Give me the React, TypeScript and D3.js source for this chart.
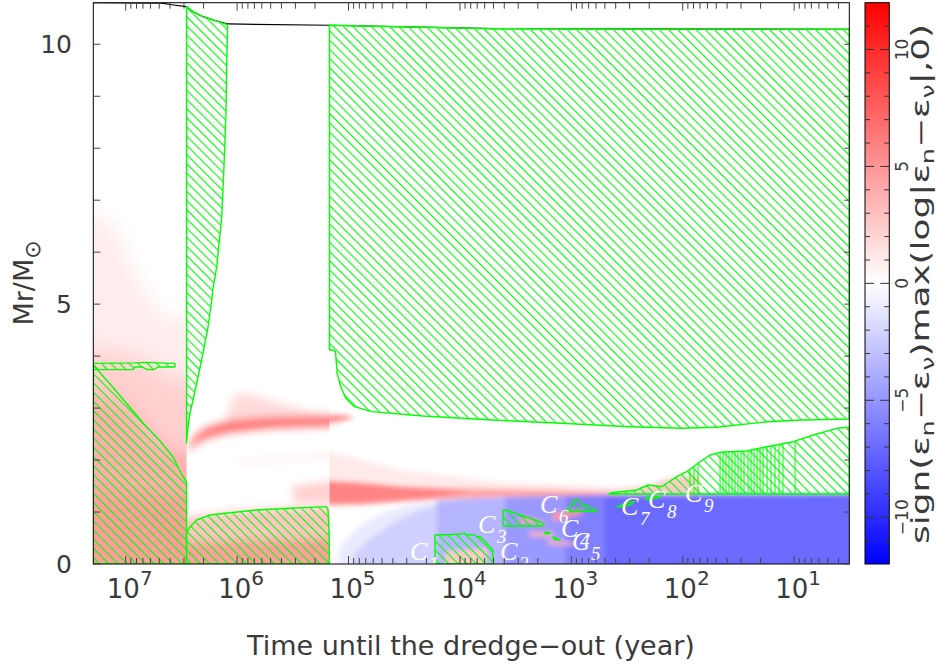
import React from "react";
import * as d3 from "d3";

type P = [number, number];

// ---------- data: x = log10(time until dredge-out / yr), y = Mr / Msun ----------
const xDecades = [1, 2, 3, 4, 5, 6, 7];
const yTickLabels = [0, 5, 10];
const cbTickLabels = [-10, -5, 0, 5, 10];
const epochBounds = [7.291, 6.454, 5.171, 0.505];

const totalMass: P[] = [[7.291,10.80],[6.68,10.79],[6.57,10.756],[6.459,10.724],[6.396,10.627],[6.306,10.531],[6.216,10.468],[6.082,10.391],[5.166,10.366],[3.7,10.30],[0.505,10.289]];

const zoneA: P[] = [[7.291,0],[7.291,3.80],[7.276,3.791],[7.141,3.463],[6.988,3.079],[6.845,2.713],[6.692,2.367],[6.575,2.059],[6.495,1.713],[6.459,1.597],[6.454,1.578],[6.454,0]];
const zoneB: P[] = [[7.291,3.86],[6.917,3.87],[6.809,3.88],[6.710,3.87],[6.558,3.86],[6.558,3.79],[6.710,3.79],[6.745,3.74],[6.809,3.74],[6.850,3.79],[6.917,3.79],[6.935,3.74],[7.291,3.74]];
const zoneC: P[] = [[6.454,10.73],[6.396,10.627],[6.306,10.531],[6.216,10.468],[6.085,10.372],[6.094,9.569],[6.100,8.678],[6.118,7.645],[6.138,6.683],[6.183,5.721],[6.219,5.272],[6.228,5.080],[6.261,4.560],[6.306,4.060],[6.351,3.598],[6.396,3.156],[6.423,2.906],[6.444,2.578],[6.454,2.328]];
const zoneD: P[] = [[6.454,0],[6.454,0.597],[6.423,0.712],[6.363,0.847],[6.243,0.943],[6.064,0.987],[5.824,1.039],[5.525,1.072],[5.196,1.103],[5.184,1.039],[5.175,0.654],[5.171,0]];
const zoneE: P[] = [[5.171,10.366],[3.7,10.30],[0.505,10.289],[0.505,2.79],[0.604,2.784],[0.928,2.771],[1.237,2.738],[1.701,2.630],[2.010,2.611],[2.474,2.642],[3.093,2.707],[3.710,2.771],[4.329,2.848],[4.792,2.931],[4.947,3.027],[5.024,3.188],[5.070,3.412],[5.102,3.669],[5.117,4.085],[5.147,4.118],[5.171,4.118]];
const zoneFTop: P[] = [[2.638,1.372],[2.413,1.424],[2.309,1.520],[2.189,1.487],[2.054,1.680],[1.964,1.776],[1.905,1.872],[1.845,1.968],[1.755,2.097],[1.665,2.149],[1.426,2.174],[1.246,2.257],[1.007,2.353],[0.828,2.482],[0.618,2.611],[0.505,2.630]];
const zoneFBase = 1.347;
const zoneC1: P[] = [[4.224,0],[4.224,0.558],[3.999,0.571],[3.96,0.60],[3.939,0.558],[3.88,0.57],[3.849,0.525],[3.82,0.53],[3.790,0.462],[3.730,0.333],[3.706,0.269],[3.700,0]];
const zoneC3: P[] = [[3.613,0.731],[3.613,1.039],[3.568,1.029],[3.461,0.943],[3.326,0.847],[3.245,0.770],[3.254,0.731]];
const zoneC4: P[] = [[3.236,0.616],[3.191,0.597],[3.230,0.578]];
const zoneC5: P[] = [[3.164,0.52],[3.102,0.46],[3.15,0.47]];
const zoneC6: P[] = [[3.039,1.006],[3.012,1.103],[2.982,1.231],[2.937,1.231],[2.895,1.103],[2.859,1.135],[2.770,1.020]];
const zoneC7: P[] = [[2.590,1.097],[2.491,1.193],[2.437,1.193],[2.473,1.135]];
const zoneC8: P[] = [[2.339,1.251],[2.294,1.308],[2.204,1.289],[2.312,1.231]];

const flashLines = [1.935,1.899,1.863,1.665,1.638,1.612,1.585,1.558,1.531,1.504,1.477,1.450,1.414,1.387,1.360,1.333,1.306,1.279,1.243,1.208,1.172,1.136,1.100,0.992];

const labelNames = ["1","2","3","4","5","6","7","8","9"];
const labelT = [4.448,3.640,3.838,3.093,2.994,3.281,2.554,2.312,1.980];
const labelM = [0.077,0.077,0.597,0.520,0.269,0.981,0.943,1.078,1.193];

// heat map patches: value of sign(en-ev)max(log|en-ev|,0) over a polygon
const heatEpoch1 = [
  { v: 0.9, poly: [[7.291,0],[7.291,7.2],[7.1,6.5],[6.9,5.5],[6.7,4.8],[6.454,4.5],[6.454,0]] as P[] },
  { v: 2.2, poly: [[7.291,0],[7.291,4.3],[6.9,4.0],[6.6,3.6],[6.454,3.4],[6.454,0]] as P[] },
  { v: 3.8, poly: [[7.291,0],[7.291,3.6],[7.0,3.1],[6.8,2.6],[6.6,2.2],[6.454,2.0],[6.454,0]] as P[] },
  { v: 4.6, poly: [[7.291,0],[7.291,1.5],[6.454,1.2],[6.454,0]] as P[] },
];
const heatEpoch2 = [
  { v: 2.8, poly: [[6.454,0],[6.454,0.75],[6.3,0.95],[5.8,1.06],[5.171,1.12],[5.171,0]] as P[] },
  { v: 4.5, poly: [[6.454,0],[6.454,0.4],[5.171,0.5],[5.171,0]] as P[] },
  { v: 1.7, poly: [[6.10,2.675],[6.06,3.15],[5.974,3.30],[5.822,3.233],[5.525,3.040],[5.229,2.886],[5.171,2.809],[5.171,2.694]] as P[] },
  { v: 0.6, poly: [[5.974,2.0],[5.6,2.09],[5.171,2.19],[5.171,2.07],[5.6,1.97],[5.974,1.88]] as P[] },
  { v: 2.2, poly: [[5.5,1.2],[5.171,1.15],[5.171,1.7],[5.5,1.5]] as P[] },
  { v: 7.0, poly: [[6.423,2.30],[6.378,2.47],[6.270,2.62],[6.064,2.76],[5.678,2.83],[5.373,2.84],[5.171,2.87],[5.171,2.68],[5.373,2.64],[5.678,2.62],[6.064,2.54],[6.270,2.43],[6.378,2.30],[6.423,2.16]] as P[] },
];
const heatEpoch3 = [
  { v: 1.0, poly: [[5.171,2.40],[4.538,1.809],[3.640,1.578],[2.743,1.501],[1.845,1.462],[1.845,1.366],[5.171,1.328]] as P[] },
  { v: -1.0, poly: [[5.139,0],[5.077,0.308],[4.987,0.558],[4.852,0.808],[4.673,1.001],[4.448,1.135],[4.179,1.212],[3.820,1.270],[3.281,1.308],[2.743,1.328],[0.505,1.337],[0.505,0]] as P[] },
  { v: -2.2, poly: [[5.0,0],[4.95,0.2],[4.8,0.5],[4.6,0.8],[4.4,1.0],[4.2,1.15],[3.82,1.25],[3.281,1.30],[2.743,1.328],[0.505,1.337],[0.505,0]] as P[] },
  { v: -3.5, poly: [[4.206,0],[4.206,1.21],[3.820,1.270],[3.281,1.308],[2.743,1.328],[0.505,1.337],[0.505,0]] as P[] },
  { v: -4.8, poly: [[3.595,0],[3.595,1.28],[3.281,1.308],[2.743,1.328],[0.505,1.337],[0.505,0]] as P[] },
  { v: -6.0, poly: [[3.05,0],[3.05,1.32],[2.743,1.328],[0.505,1.337],[0.505,0]] as P[] },
  { v: -7.0, poly: [[2.70,0],[2.70,1.33],[0.505,1.337],[0.505,0]] as P[] },
  { v: 4.2, poly: [[5.171,1.655],[4.897,1.578],[4.538,1.501],[4.089,1.462],[3.640,1.443],[3.191,1.424],[2.743,1.395],[2.384,1.366],[2.743,1.328],[3.191,1.308],[3.640,1.289],[4.089,1.251],[4.538,1.193],[4.897,1.135],[5.171,1.116]] as P[] },
  { v: 5.8, poly: [[5.171,1.62],[4.897,1.55],[4.538,1.48],[4.2,1.44],[3.9,1.41],[4.2,1.30],[4.538,1.23],[4.897,1.18],[5.171,1.15]] as P[] },
  { v: 5.0, poly: [[5.25,2.87],[5.07,2.87],[4.968,2.84],[4.968,2.80],[5.07,2.74],[5.25,2.68]] as P[] },
  { v: 2.5, poly: [[4.13,0],[4.13,0.25],[3.76,0.30],[3.76,0]] as P[] },
  { v: 4.0, poly: [[3.461,0.80],[3.461,0.92],[3.236,0.80],[3.236,0.75]] as P[] },
  { v: 5.0, poly: [[3.164,0.82],[3.164,0.99],[2.90,1.04],[2.90,0.96]] as P[] },
  { v: 3.5, poly: [[3.38,0.54],[3.38,0.61],[3.16,0.61],[3.16,0.52]] as P[] },
  { v: 3.5, poly: [[3.21,0.38],[3.21,0.46],[2.98,0.42],[2.98,0.36]] as P[] },
  { v: 2.5, poly: [[2.563,1.347],[2.563,1.40],[2.3,1.52],[2.05,1.70],[1.85,1.70],[1.85,1.347]] as P[] },
];
const heatEpochs = [heatEpoch1, heatEpoch2, heatEpoch3];

export default function App() {
  const W = 940, H = 668;
  const L = 93.3, R = 849.3, T = 2.7, B = 564;
  const CBL = 865, CBR = 889.3;
  const font = "'DejaVu Sans', sans-serif";
  const txt = "#3a3a3a";
  const green = "#00ff00";

  const x = d3.scaleLog().domain([10 ** epochBounds[0], 10 ** epochBounds[3]]).range([L, R]);
  const X = (lt: number) => x(10 ** lt);
  const y = d3.scaleLinear().domain([0, 10.8]).range([B, T]);
  const cy = d3.scaleLinear().domain([-12, 12]).range([B, T]);
  const color = d3.scaleLinear<string>().domain([-12, 0, 12]).range(["#0000ff", "#ffffff", "#ff0000"]).interpolate(d3.interpolateRgb);
  const line = d3.line<P>().x(d => X(d[0])).y(d => y(d[1]));
  const poly = (pts: P[]) => (line(pts) || "") + "Z";

  const blurs = [10, 4, 2.5];
  const expand = (pt: P, t0: number, t1: number): P => {
    let [t, m] = pt;
    if (Math.abs(t - t0) < 1e-6) t = t0 + 0.4;
    if (Math.abs(t - t1) < 1e-6) t = t1 - 0.4;
    if (m <= 0) m = -0.6;
    return [t, m];
  };

  const zoneF: P[] = [[2.662, zoneFBase], ...zoneFTop, [0.505, zoneFBase]];
  const zones = [zoneA, zoneB, zoneC, zoneD, zoneE, zoneF, zoneC1, zoneC3, zoneC4, zoneC5, zoneC6, zoneC7, zoneC8];
  const fTop = d3.scaleLinear().domain(zoneFTop.map(d => d[0])).range(zoneFTop.map(d => d[1]));

  const xTicks = x.ticks();
  const isDecade = (v: number) => Math.abs(Math.log10(v) - Math.round(Math.log10(v))) < 1e-9;

  const cbStops = d3.range(-12, 12.001, 1);

  return (
    <svg width={W} height={H} style={{ position: "absolute", left: 0, top: 0, background: "#fff" }} fontFamily={font}>
      <defs>
        <clipPath id="plotClip"><rect x={L} y={T} width={R - L} height={B - T} /></clipPath>
        {epochBounds.slice(0, 3).map((t0, i) => (
          <clipPath key={i} id={`ep${i}`}>
            <rect x={X(t0)} y={T} width={X(epochBounds[i + 1]) - X(t0)} height={B - T} />
          </clipPath>
        ))}
        {blurs.map((s, i) => (
          <filter key={i} id={`blur${i}`} filterUnits="userSpaceOnUse" x={0} y={-50} width={W} height={H + 100}>
            <feGaussianBlur stdDeviation={s} />
          </filter>
        ))}
        <pattern id="hatch" patternUnits="userSpaceOnUse" width={6.5} height={20} patternTransform="rotate(-45)">
          <line x1={3.25} y1={-1} x2={3.25} y2={21} stroke={green} strokeWidth={1.1} />
        </pattern>
        <linearGradient id="cbGrad" x1="0" y1="1" x2="0" y2="0">
          {cbStops.map(v => (
            <stop key={v} offset={(v + 12) / 24} stopColor={color(v)} />
          ))}
        </linearGradient>
      </defs>

      <rect x={L} y={T} width={R - L} height={B - T} fill="#fff" />

      {/* heat map */}
      <g clipPath="url(#plotClip)">
        {heatEpochs.map((patches, i) => (
          <g key={i} clipPath={`url(#ep${i})`}>
            <g filter={`url(#blur${i})`}>
              {patches.map((p, j) => (
                <path key={j} d={poly(p.poly.map(pt => expand(pt, epochBounds[i], epochBounds[i + 1])))} fill={color(p.v)} />
              ))}
            </g>
          </g>
        ))}
      </g>

      <g clipPath="url(#plotClip)">
        {/* total mass */}
        <path d={line(totalMass) || ""} fill="none" stroke="#000" strokeWidth={1.2} />
        {/* convective zones */}
        {zones.map((z, i) => (
          <path key={i} d={poly(z)} fill="url(#hatch)" stroke={green} strokeWidth={1.4} strokeLinejoin="round" />
        ))}
        {flashLines.map((t, i) => (
          <line key={i} x1={X(t)} x2={X(t)} y1={y(zoneFBase)} y2={y(fTop(t))} stroke={green} strokeWidth={1} />
        ))}
        {/* labels */}
        {labelNames.map((n, i) => (
          <g key={n} fill="#fff" fontFamily="'Liberation Serif', serif" fontStyle="italic">
            <text x={X(labelT[i])} y={y(labelM[i])} fontSize={26}>C</text>
            <text x={X(labelT[i]) + 19} y={y(labelM[i]) + 10} fontSize={19}>{n}</text>
          </g>
        ))}
      </g>

      {/* axes frame */}
      <rect x={L} y={T} width={R - L} height={B - T} fill="none" stroke="#000" strokeWidth={1} />
      {xTicks.map((v, i) => {
        const len = isDecade(v) ? 8 : 6;
        const px = x(v);
        return (
          <g key={i} stroke="#444" strokeWidth={1}>
            <line x1={px} x2={px} y1={B} y2={B - len} />
            <line x1={px} x2={px} y1={T} y2={T + len} />
          </g>
        );
      })}
      {xDecades.map(k => (
        <text key={k} x={X(k) + 4} y={598} textAnchor="middle" fontSize={26} fill={txt}>
          10<tspan dy={-13} fontSize={20}>{k}</tspan>
        </text>
      ))}
      {d3.range(0, 11).map(v => (
        <g key={v} stroke="#444" strokeWidth={1}>
          <line x1={L} x2={L + 7} y1={y(v)} y2={y(v)} />
          <line x1={R} x2={R - 5} y1={y(v)} y2={y(v)} />
        </g>
      ))}
      {yTickLabels.map(v => (
        <text key={v} x={72} y={y(v) + 9} textAnchor="end" fontSize={25} fill={txt}>{v}</text>
      ))}
      <text transform={`translate(33,283) rotate(-90)`} textAnchor="middle" fontSize={27} fill={txt}>
        Mr/M<tspan dy={7} fontSize={22}>⊙</tspan>
      </text>
      <text x={471} y={655} textAnchor="middle" fontSize={27} fill={txt}>Time until the dredge−out (year)</text>

      {/* colorbar */}
      <rect x={CBL} y={T} width={CBR - CBL} height={B - T} fill="url(#cbGrad)" stroke="#000" strokeWidth={1} />
      {d3.range(-11, 12).map(v => {
        const len = v % 5 === 0 ? 9 : 5;
        return (
          <g key={v} stroke="#333" strokeWidth={1}>
            <line x1={CBL} x2={CBL + len} y1={cy(v)} y2={cy(v)} />
            <line x1={CBR} x2={CBR - len} y1={cy(v)} y2={cy(v)} />
          </g>
        );
      })}
      {cbTickLabels.map(v => (
        <text key={v} transform={`translate(908,${cy(v)}) rotate(-90)`} textAnchor="middle" fontSize={17} fill={txt}>
          {v < 0 ? "−" + Math.abs(v) : String(v)}
        </text>
      ))}
      <text transform={`translate(929,284) rotate(-90)`} textAnchor="middle" fontSize={24} fill={txt} textLength={520} lengthAdjust="spacingAndGlyphs">
        sign(ε<tspan dy={5} fontSize={17}>n</tspan><tspan dy={-5}>−ε</tspan><tspan dy={5} fontSize={17}>ν</tspan><tspan dy={-5}>)max(log|ε</tspan><tspan dy={5} fontSize={17}>n</tspan><tspan dy={-5}>−ε</tspan><tspan dy={5} fontSize={17}>ν</tspan><tspan dy={-5}>|,0)</tspan>
      </text>
    </svg>
  );
}
